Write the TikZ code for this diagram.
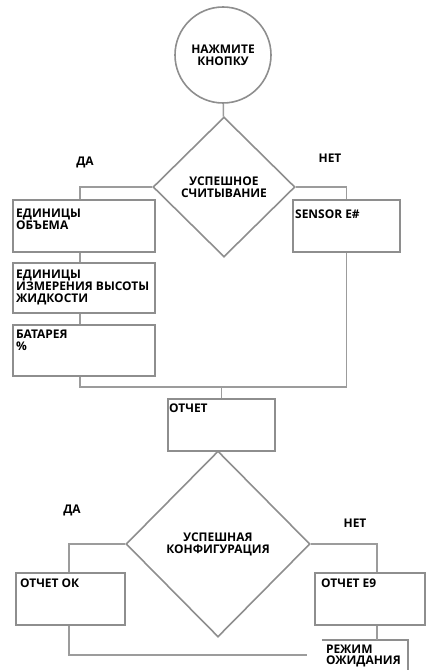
\documentclass[tikz,border=0pt]{standalone}
\usepackage{fontspec}
\setmainfont{Open Sans}
\usepackage{tikz}
\usetikzlibrary{shapes.geometric}
\definecolor{cLine}{HTML}{9C9C9C}
\definecolor{cEdge}{HTML}{8E8E8E}
\tikzset{
  box/.style={draw=cEdge, line width=2pt, fill=white, inner sep=0pt},
  rim/.style={draw=cEdge, line width=2pt},
  decide/.style={diamond, draw=cEdge, line width=1.6pt, fill=white,
                 inner sep=0pt, align=center},
  txt/.style={font=\bfseries\fontsize{12}{12}\selectfont, align=left,
              inner sep=0pt, anchor=north west, xshift=4bp, yshift=-8bp},
  tag/.style={font=\bfseries\fontsize{12}{12}\selectfont, inner sep=0pt},
  ln/.style={cLine, line width=1.5pt}
}
\begin{document}
\begin{tikzpicture}[x=1bp, y=-1bp, font=\bfseries\fontsize{12}{12}\selectfont]
\useasboundingbox (0,0) rectangle (429,670);
% start
\node[circle, draw=cEdge, line width=1.6pt, minimum size=96bp, align=center,
      inner sep=0pt] (go) at (223,55) {НАЖМИТЕ\\КНОПКУ};
\node[decide, minimum width=142bp, minimum height=140bp] (rd) at (224,187)
      {УСПЕШНОЕ\\СЧИТЫВАНИЕ};
\node[tag] (rdY) at (85,162) {ДА};
\node[tag] (rdN) at (330,158) {НЕТ};
% left column
\node[box, minimum width=142bp, minimum height=52bp,
      label={[txt, yshift=-2bp]north west:ЕДИНИЦЫ\\ОБЪЕМА}] (vol) at (84,226) {};
\node[box, minimum width=142bp, minimum height=50bp,
      label={[txt]north west:ЕДИНИЦЫ\\ИЗМЕРЕНИЯ ВЫСОТЫ\\ЖИДКОСТИ}] (lvl) at (84,288) {};
\node[box, minimum width=142bp, minimum height=51bp,
      label={[txt, yshift=2bp]north west:БАТАРЕЯ\\\%}] (bat) at (84,350.5) {};
% right column
\node[box, minimum width=107bp, minimum height=52bp,
      label={[txt, xshift=-1bp, yshift=-3bp]north west:SENSOR E\#}] (sens) at (346.5,226) {};
\coordinate (mrg) at (221.5,387);
\node[box, minimum width=107bp, minimum height=52bp,
      label={[txt, xshift=-2bp, yshift=2bp]north west:ОТЧЕТ}] (rep) at (221.5,425) {};
% second decision
\node[decide, minimum width=184bp, minimum height=186bp] (cf) at (218,544)
      {УСПЕШНАЯ\\КОНФИГУРАЦИЯ};
\node[tag] (cfY) at (72,510) {ДА};
\node[tag] (cfN) at (355,523) {НЕТ};
\node[box, minimum width=109bp, minimum height=52bp,
      label={[txt, xshift=1bp, yshift=1bp]north west:ОТЧЕТ ОК}] (ok) at (70.5,599) {};
\node[box, minimum width=110bp, minimum height=52bp,
      label={[txt, xshift=3bp, yshift=1bp]north west:ОТЧЕТ E9}] (err) at (370,599) {};
\node[minimum width=86bp, minimum height=30bp, inner sep=0pt,
      label={[txt, yshift=3.5bp]north west:РЕЖИМ\\ОЖИДАНИЯ}] (idle) at (365,655) {};
\draw[rim] (idle.north west) -- (idle.north east) -- (idle.south east);
% connectors
\draw[ln] (go) -- (rd);
\draw[ln] (rd.west) -| ([xshift=-4bp]vol.north);
\draw[ln] (rd.east) -| (sens.north);
\draw[ln] ([xshift=-4bp]vol.south) -- ([xshift=-4bp]lvl.north);
\draw[ln] ([xshift=-4bp]lvl.south) -- ([xshift=-4bp]bat.north);
\draw[ln] ([xshift=-4bp]bat.south) |- (mrg) -| (sens.south);
\draw[ln] (mrg) -- (rep.north);
\draw[ln] (cf.west) -| ([xshift=-1.5bp]ok.north);
\draw[ln] (cf.east) -| ([xshift=7bp]err.north);
\draw[ln] ([xshift=-1.5bp]ok.south) |- ([xshift=-15bp]idle.west);
\draw[ln] ([xshift=7bp]err.south) -- ([xshift=7bp]err.south |- idle.north);
\end{tikzpicture}
\end{document}
